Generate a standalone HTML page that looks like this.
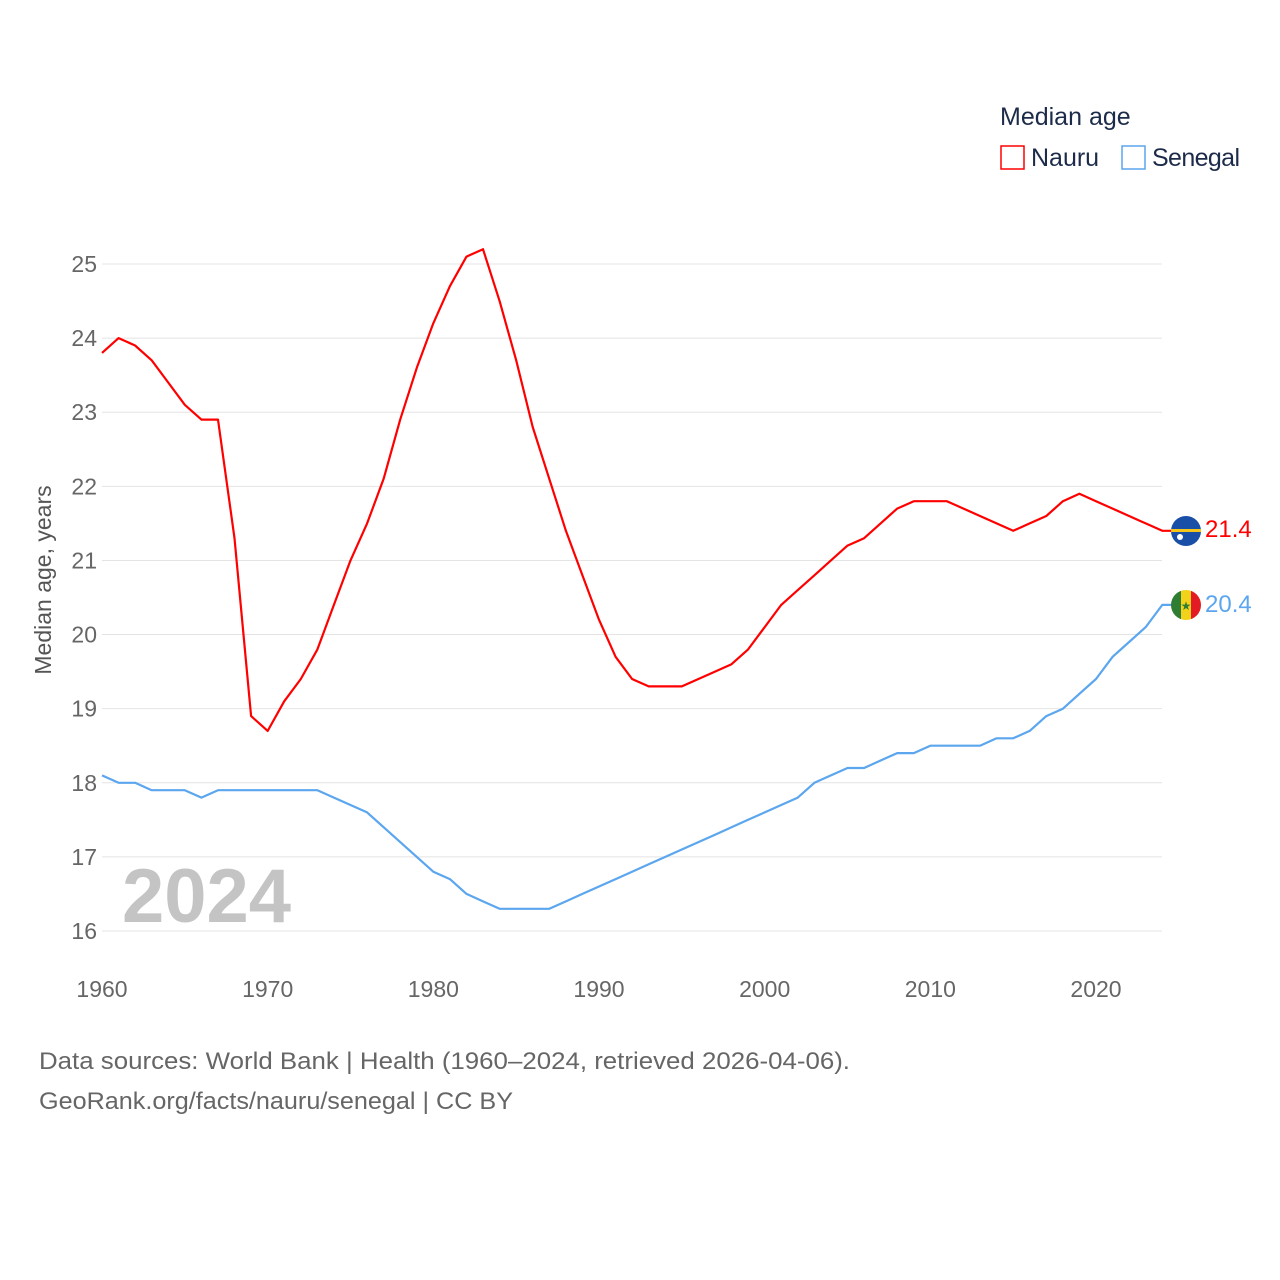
<!DOCTYPE html>
<html><head><meta charset="utf-8"><style>
body{margin:0;background:#fff;}
svg{display:block;font-family:"Liberation Sans",sans-serif;}
</style></head><body>
<svg id="chart" width="1280" height="1280" viewBox="0 0 1280 1280">
<text x="1000" y="125" font-size="25" fill="#1d2b4a">Median age</text>
<g><rect x="1001" y="146" width="23" height="23" fill="none" stroke="#f00" stroke-width="1.5"/><text x="1031" y="166" font-size="25" fill="#1d2b4a">Nauru</text></g>
<g><rect x="1122" y="146" width="23" height="23" fill="none" stroke="#5ba6ee" stroke-width="1.5"/><text x="1152" y="166" font-size="25" fill="#1d2b4a" textLength="88">Senegal</text></g>
<g id="grid"></g><g id="yt"></g><g id="xt"></g>
<text x="122" y="922" font-size="76" font-weight="bold" fill="#c4c4c4">2024</text>
<text transform="translate(51,580) rotate(-90)" text-anchor="middle" font-size="23" fill="#555">Median age, years</text>
<g id="lines"></g>
<g><circle cx="1186" cy="531" r="15" fill="#1a4fa8"/><rect x="1171" y="529" width="30" height="3" fill="#f5c518"/><circle cx="1180" cy="537" r="3" fill="#fff"/></g>
<g><clipPath id="sc"><circle cx="1186" cy="605" r="15"/></clipPath><g clip-path="url(#sc)"><rect x="1171" y="590" width="10" height="30" fill="#2e7d32"/><rect x="1181" y="590" width="10" height="30" fill="#f2d21b"/><rect x="1191" y="590" width="10" height="30" fill="#e31b23"/></g><text x="1186" y="610" font-size="12" text-anchor="middle" fill="#2e7d32">★</text></g>
<text x="1205" y="537" font-size="24" fill="#f00">21.4</text>
<text x="1205" y="612" font-size="24" fill="#5ba6ee">20.4</text>
<text x="39" y="1069" font-size="24" fill="#666" textLength="811" lengthAdjust="spacingAndGlyphs">Data sources: World Bank | Health (1960–2024, retrieved 2026-04-06).</text>
<text x="39" y="1109" font-size="24" fill="#666" textLength="474" lengthAdjust="spacingAndGlyphs">GeoRank.org/facts/nauru/senegal | CC BY</text>
</svg>
<script>
const years=[];for(let y=1960;y<=2024;y++)years.push(y);
const nauru=[23.8,24.0,23.9,23.7,23.4,23.1,22.9,22.9,21.3,18.9,18.7,19.1,19.4,19.8,20.4,21.0,21.5,22.1,22.9,23.6,24.2,24.7,25.1,25.2,24.5,23.7,22.8,22.1,21.4,20.8,20.2,19.7,19.4,19.3,19.3,19.3,19.4,19.5,19.6,19.8,20.1,20.4,20.6,20.8,21.0,21.2,21.3,21.5,21.7,21.8,21.8,21.8,21.7,21.6,21.5,21.4,21.5,21.6,21.8,21.9,21.8,21.7,21.6,21.5,21.4];
const senegal=[18.1,18.0,18.0,17.9,17.9,17.9,17.8,17.9,17.9,17.9,17.9,17.9,17.9,17.9,17.8,17.7,17.6,17.4,17.2,17.0,16.8,16.7,16.5,16.4,16.3,16.3,16.3,16.3,16.4,16.5,16.6,16.7,16.8,16.9,17.0,17.1,17.2,17.3,17.4,17.5,17.6,17.7,17.8,18.0,18.1,18.2,18.2,18.3,18.4,18.4,18.5,18.5,18.5,18.5,18.6,18.6,18.7,18.9,19.0,19.2,19.4,19.7,19.9,20.1,20.4];
const yTicks=[16,17,18,19,20,21,22,23,24,25];
const xTicks=[1960,1970,1980,1990,2000,2010,2020];
const NS="http://www.w3.org/2000/svg";
const X=y=>102+(y-1960)*(1096-102)/60;
const Y=v=>931-(v-16)*(931-264)/9;
function mk(t,a,p){const e=document.createElementNS(NS,t);for(const k in a)e.setAttribute(k,a[k]);p.appendChild(e);return e;}
const grid=document.getElementById('grid'),yt=document.getElementById('yt'),xt=document.getElementById('xt'),lines=document.getElementById('lines');
yTicks.forEach(v=>{
 const l=mk('line',{x1:102,x2:1162,y1:Y(v),y2:Y(v),stroke:'#e4e4e4','stroke-width':1},grid);
 
 
 const t=mk('text',{x:97,y:Y(v)+8,'text-anchor':'end','font-size':23,fill:'#666'},yt);t.textContent=v;
 
 
});
xTicks.forEach(v=>{
 const t=mk('text',{x:X(v),y:997,'text-anchor':'middle','font-size':23,fill:'#666'},xt);t.textContent=v;
 
 
});
function line(d,c,n){
 const last=d[d.length-1];
 const p=mk('path',{d:d.map((v,i)=>(i?'L':'M')+X(years[i]).toFixed(1)+','+Y(v).toFixed(1)).join('')+'L1172,'+Y(last).toFixed(1),fill:'none',stroke:c,'stroke-width':2.2,'stroke-linejoin':'round'},lines);
 
 
}
line(senegal,'#5ba6ee','senegal-line');
line(nauru,'#f00','nauru-line');
</script>
</body></html>
